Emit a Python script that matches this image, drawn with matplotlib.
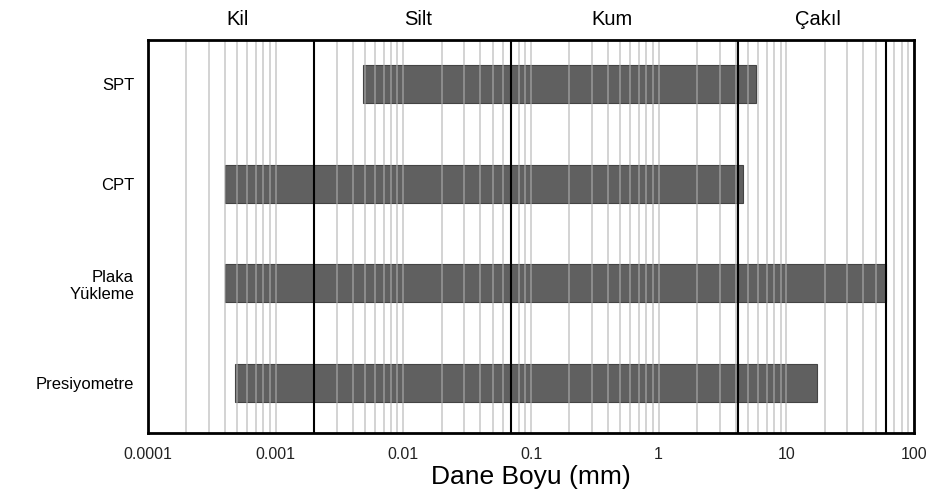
import numpy as np
from matplotlib import pyplot as plt
from matplotlib import ticker

plt.rcParams['font.family'] = ['Liberation Sans', 'DejaVu Sans']

# test methods and the grain size range each one covers (mm)
methods = ['SPT', 'CPT', 'Plaka\nYükleme', 'Presiyometre']
size_min = [0.0048, 0.0004, 0.0004, 0.00048]
size_max = [5.8, 4.56, 60, 17.3]

# soil class boundaries (mm) and class names
boundaries = [0.002, 0.07, 4.2, 60]
classes = ['Kil', 'Silt', 'Kum', 'Çakıl']
class_pos = [0.0005, 0.013, 0.43, 17.7]

xticks = [0.0001, 0.001, 0.01, 0.1, 1, 10, 100]
xtick_labels = ['0.0001', '0.001', '0.01', '0.1', '1', '10', '100']


def main():
    fig = plt.figure(figsize=(9.32, 4.99), dpi=100)
    ax = fig.add_axes([0.1588, 0.1323, 0.8219, 0.7875])

    y = np.arange(len(methods))
    widths = np.array(size_max) - np.array(size_min)
    ax.barh(y, widths, left=size_min, height=0.38, color='#606060',
            edgecolor='#444444', linewidth=0.8, zorder=2)

    ax.set_xscale('log')
    ax.set_xlim(0.0001, 100)
    ax.set_ylim(3.5, -0.44)

    ax.xaxis.set_major_locator(ticker.FixedLocator(xticks))
    ax.xaxis.set_minor_locator(ticker.LogLocator(base=10, subs=np.arange(2, 10)))
    ax.xaxis.set_minor_formatter(ticker.NullFormatter())
    ax.set_xticks(xticks)
    ax.set_xticklabels(xtick_labels, fontsize=11.5, color='#222222')
    ax.grid(True, which='both', axis='x', color='#b0b0b0', alpha=0.6,
            linewidth=1.3, zorder=3)
    ax.set_axisbelow(False)
    ax.tick_params(axis='both', which='both', length=0)
    ax.tick_params(axis='x', pad=10)

    ax.set_yticks(y)
    ax.set_yticklabels(methods, fontsize=12, ha='right')
    ax.tick_params(axis='y', pad=10)

    for b in boundaries:
        ax.axvline(b, color='black', linewidth=1.5, zorder=4)

    for name, xp in zip(classes, class_pos):
        ax.text(xp, 1.038, name, transform=ax.get_xaxis_transform(),
                ha='center', va='baseline', fontsize=14.5)

    for s in ax.spines.values():
        s.set_linewidth(2)
        s.set_zorder(5)

    ax.set_xlabel('Dane Boyu (mm)', fontsize=19, labelpad=2)

    fig.savefig('out.png', dpi=100)


if __name__ == "__main__":
    main()
